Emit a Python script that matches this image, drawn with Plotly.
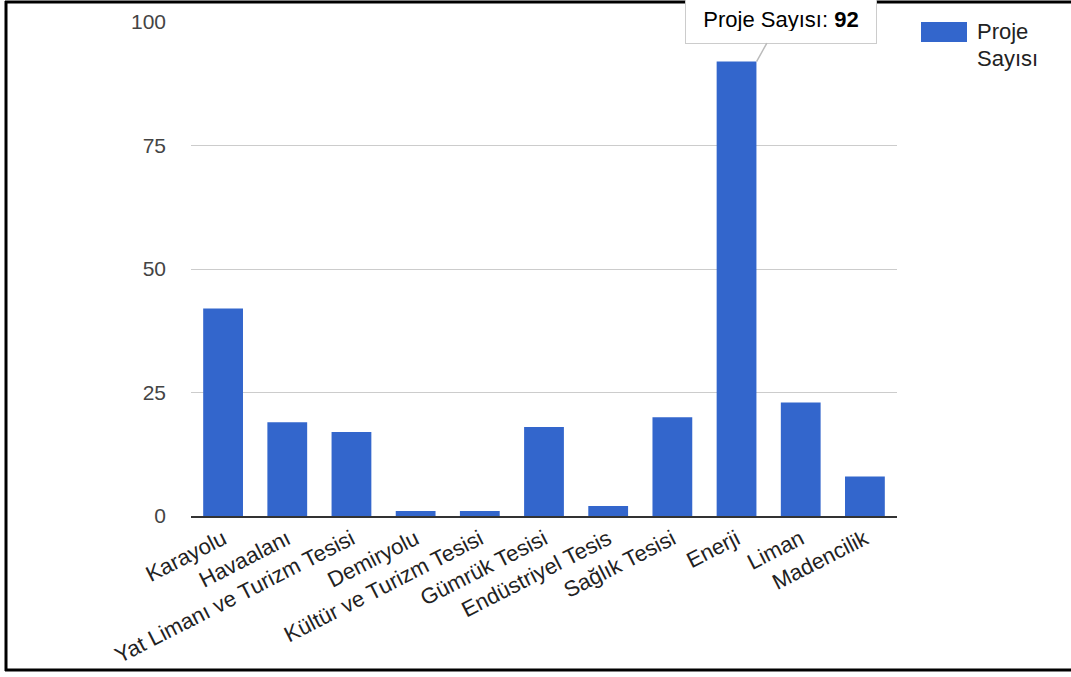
import plotly.graph_objects as go

categories = ["Karayolu", "Havaalanı", "Yat Limanı ve Turizm Tesisi", "Demiryolu",
              "Kültür ve Turizm Tesisi", "Gümrük Tesisi", "Endüstriyel Tesis",
              "Sağlık Tesisi", "Enerji", "Liman", "Madencilik"]
values = [42, 19, 17, 1, 1, 18, 2, 20, 92, 23, 8]
series_name = "Proje Sayısı"
y_ticks = [0, 25, 50, 75, 100]

FONT = "Arial, Liberation Sans, sans-serif"
BLUE = "#3366cc"

# plot area in pixels
L, R, T, B = 191, 897, 22, 516
W, H = 1071, 677
pw, ph = R - L, B - T
def px(x):
    return (x - L) / pw
def py(y):
    return (B - y) / ph

fig = go.Figure(go.Bar(x=categories, y=values, name=series_name,
                       marker=dict(color=BLUE, line=dict(width=0)),
                       showlegend=False))

fig.update_layout(
    width=W, height=H,
    margin=dict(l=L, r=W - R, t=T, b=H - B, pad=0, autoexpand=False),
    plot_bgcolor="white", paper_bgcolor="white",
    bargap=0.38,
    font=dict(family=FONT, size=21, color="#222"),
    xaxis=dict(tickangle=-27, showgrid=False, showline=True, linecolor="#333",
               linewidth=1.5, ticks="", tickfont=dict(size=22, color="#222"),
               range=[-0.5, len(categories) - 0.5]),
    yaxis=dict(range=[0, 100], tickvals=y_ticks, showgrid=True, gridcolor="#cccccc",
               gridwidth=1, zeroline=False, showline=False, ticks="",
               tickfont=dict(size=21, color="#444"), ticklabelstandoff=24),
)

# tooltip callout on the max bar
imax = values.index(max(values))
fig.add_annotation(x=categories[imax], y=values[imax], xref="x", yref="y",
                   text=f"{series_name}: <b>{values[imax]}</b>",
                   showarrow=True, arrowhead=0, arrowcolor="#bbbbbb", arrowwidth=1.5,
                   xshift=20, ax=24, ay=-43, bgcolor="white", bordercolor="#cccccc",
                   borderwidth=1, borderpad=12, width=166, height=24,
                   font=dict(size=22, color="#000"))

# legend (custom to match swatch size)
fig.add_shape(type="rect", xref="paper", yref="paper",
              x0=px(921), x1=px(967), y0=py(42), y1=py(22),
              fillcolor=BLUE, line=dict(width=0))
for txt, yc in [("Proje", 32), ("Sayısı", 59)]:
    fig.add_annotation(x=px(975), y=py(yc), xref="paper", yref="paper",
                       xanchor="left", yanchor="middle", showarrow=False,
                       text=txt, font=dict(size=22, color="#222"))

# black frame
frame = dict(color="black", width=3)
fig.add_shape(type="line", xref="paper", yref="paper",
              x0=px(6), x1=px(6), y0=py(1), y1=py(671), line=frame)
fig.add_shape(type="line", xref="paper", yref="paper",
              x0=px(5), x1=px(1075), y0=py(2), y1=py(2), line=frame)
fig.add_shape(type="line", xref="paper", yref="paper",
              x0=px(5), x1=px(1075), y0=py(670), y1=py(670), line=frame)

fig.write_html("out.html")
